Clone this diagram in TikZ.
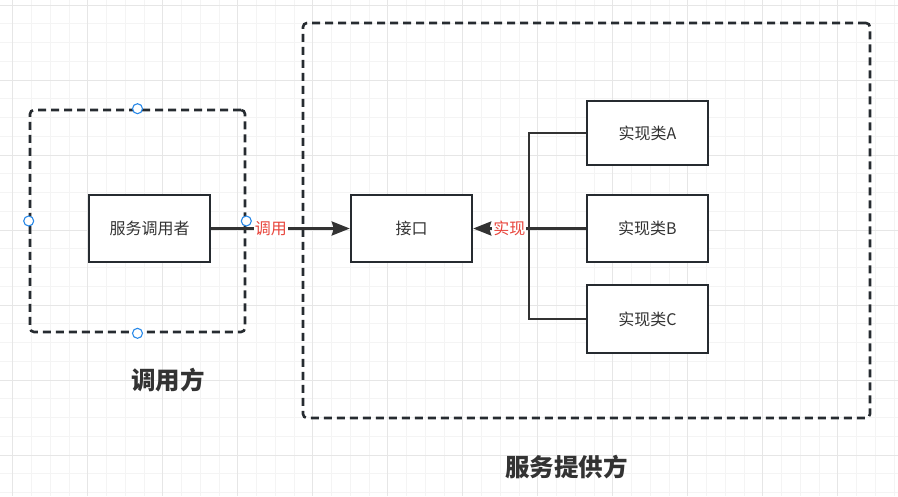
\documentclass[tikz,border=0pt]{standalone}
\usepackage{fontspec}
\setmainfont{Noto Sans CJK SC}
\usepackage{tikz}
\usetikzlibrary{arrows.meta, positioning}
\definecolor{cline}  {RGB}{38, 43, 48}
\definecolor{cconn}  {RGB}{51, 51, 51}
\definecolor{cred}   {RGB}{232,69, 60}
\definecolor{chandle}{RGB}{41,137,232}
\definecolor{cminor} {RGB}{244,244,244}
\definecolor{cmajor} {RGB}{230,230,230}
\tikzset{
  cls/.style={rectangle, draw=cline, line width=2.5pt, fill=white,
              minimum width=121pt, minimum height=67pt,
              font=\fontsize{16}{19}\selectfont, text=cconn},
  grp/.style={rectangle, draw=cline, line width=2.6pt, rounded corners=4pt,
              dash pattern=on 8pt off 5pt},
  handle/.style={circle, draw=chandle, fill=white, line width=1.1pt,
                 minimum size=10pt, inner sep=0pt},
  arr/.style={-{Stealth[length=18pt,width=14pt,inset=2pt]}, line width=2.4pt, color=cconn},
  conn/.style={line width=2.4pt, color=cconn},
  lbl/.style={font=\fontsize{16}{19}\selectfont, text=cred, fill=white, inner sep=1pt},
  title/.style={font=\fontsize{24.5}{28}\selectfont\bfseries, text=cconn},
}

\begin{document}
\begin{tikzpicture}[x=1pt, y=-1pt]
  \useasboundingbox (0,0) rectangle (898,496);
  % ── Grid ───────────────────────────────────────────────────────────────────
  \foreach \i in {0,...,47}
    \draw[cminor, line width=0.8pt] ({12.7+18.75*\i},0) -- ({12.7+18.75*\i},496);
  \foreach \i in {0,...,26}
    \draw[cminor, line width=0.8pt] (0,{5+18.75*\i}) -- (898,{5+18.75*\i});
  \foreach \i in {0,...,11}
    \draw[cmajor, line width=0.8pt] ({12.7+75*\i},0) -- ({12.7+75*\i},496);
  \foreach \i in {0,...,6}
    \draw[cmajor, line width=0.8pt] (0,{5+75*\i}) -- (898,{5+75*\i});

  % ── Groups ─────────────────────────────────────────────────────────────────
  \node[grp, minimum width=215pt, minimum height=222pt] at (137.5,221)   (caller) {};
  \node[grp, minimum width=567pt, minimum height=395pt] at (586.5,220.5) (provider) {};

  % ── Nodes ──────────────────────────────────────────────────────────────────
  \node[cls] at (149.5,228.5) (user)  {服务调用者};
  \node[cls] at (411.5,228.5) (iface) {接口};
  \node[cls, minimum height=64pt] at (647.5,133)   (implA) {实现类A};
  \node[cls]                      at (647.5,228.5) (implB) {实现类B};
  \node[cls, minimum height=68pt] at (647.5,319)   (implC) {实现类C};
  \coordinate (trunk) at (529,228.5);

  % ── Arrows ─────────────────────────────────────────────────────────────────
  \draw[conn] (implA.west) -| (trunk) |- (implC.west);
  \draw[conn] (implB.west) -- (trunk);
  \draw[arr] (trunk) -- node[lbl, pos=0.35] {实现} (iface.east);
  \draw[arr] (user.east) -- node[lbl, pos=0.43] {调用} (iface.west);

  % ── Handles ────────────────────────────────────────────────────────────────
  \node[handle] at (caller.north) (hn) {};
  \node[handle] at (caller.west)  (hw) {};
  \node[handle] at (caller.east)  (he) {};
  \node[handle] at (caller.south) (hs) {};

  % ── Group titles ───────────────────────────────────────────────────────────
  \node[title] at (168,380)   (tcaller)   {调用方};
  \node[title] at (566.5,467) (tprovider) {服务提供方};
\end{tikzpicture}
\end{document}
